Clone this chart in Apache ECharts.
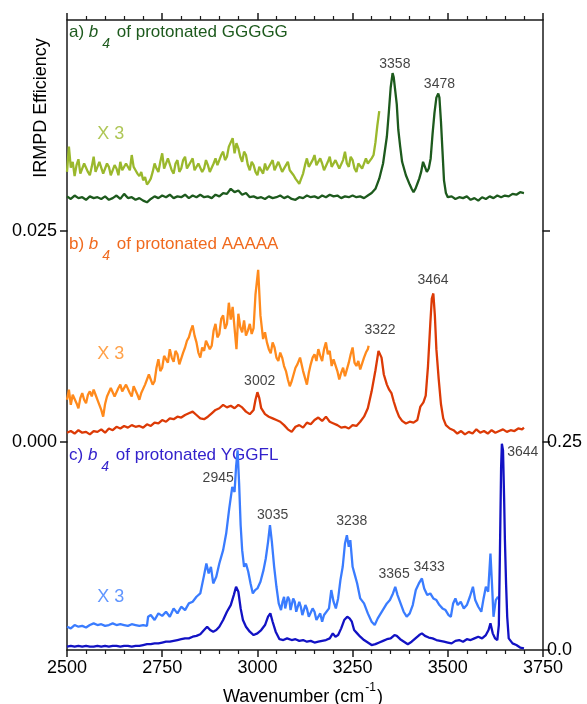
<!DOCTYPE html>
<html>
<head>
<meta charset="utf-8">
<title>IRMPD spectra of b4 ions</title>
<script src="https://cdn.jsdelivr.net/npm/echarts@6.0.0/dist/echarts.min.js"></script>
<style>
  html, body { margin: 0; padding: 0; background: #fff; }
  #chart { width: 587px; height: 704px; }
</style>
</head>
<body>
<div id="chart"></div>
<script>
// wavenumber (cm-1), IRMPD efficiency
const gggggMain = [
  [2500,0.0041],[2510,0.0038],[2520,0.0042],[2530,0.0039],[2540,0.0040],[2550,0.0037],[2560,0.0041],[2570,0.0039],
  [2580,0.0040],[2590,0.0038],[2600,0.0041],[2610,0.0037],[2620,0.0039],[2630,0.0042],[2640,0.0038],[2650,0.0044],
  [2660,0.0039],[2670,0.0040],[2680,0.0037],[2690,0.0039],[2700,0.0036],[2710,0.0034],[2720,0.0038],[2730,0.0041],
  [2740,0.0039],[2750,0.0042],[2760,0.0040],[2770,0.0043],[2780,0.0039],[2790,0.0041],[2800,0.0040],[2810,0.0043],
  [2820,0.0039],[2830,0.0042],[2840,0.0040],[2850,0.0043],[2860,0.0040],[2870,0.0041],[2880,0.0039],[2890,0.0043],
  [2900,0.0041],[2910,0.0045],[2920,0.0044],[2930,0.0050],[2940,0.0046],[2950,0.0048],[2960,0.0043],[2970,0.0045],
  [2980,0.0040],[2990,0.0041],[3000,0.0039],[3010,0.0040],[3020,0.0038],[3030,0.0041],[3040,0.0039],[3050,0.0040],
  [3060,0.0042],[3070,0.0039],[3080,0.0041],[3090,0.0038],[3100,0.0037],[3110,0.0040],[3120,0.0039],[3130,0.0042],
  [3140,0.0040],[3150,0.0041],[3160,0.0039],[3170,0.0042],[3180,0.0040],[3190,0.0043],[3200,0.0041],[3210,0.0042],
  [3220,0.0039],[3230,0.0041],[3240,0.0040],[3250,0.0042],[3260,0.0040],[3270,0.0041],[3280,0.0039],[3290,0.0042],
  [3300,0.0045],[3310,0.0050],[3320,0.0062],[3330,0.0080],[3340,0.0112],[3345,0.0140],[3350,0.0170],[3355,0.0187],
  [3358,0.0182],[3362,0.0180],[3366,0.0150],[3370,0.0120],[3375,0.0100],[3380,0.0082],[3390,0.0066],[3400,0.0055],
  [3405,0.0050],[3410,0.0046],[3415,0.0050],[3420,0.0056],[3425,0.0062],[3430,0.0070],[3435,0.0082],[3440,0.0076],
  [3445,0.0070],[3450,0.0074],[3455,0.0086],[3460,0.0115],[3465,0.0140],[3470,0.0158],[3475,0.0163],[3478,0.0158],
  [3482,0.0130],[3486,0.0095],[3490,0.0060],[3495,0.0045],[3500,0.0040],[3510,0.0041],[3520,0.0038],[3530,0.0040],
  [3540,0.0039],[3550,0.0041],[3560,0.0037],[3570,0.0039],[3580,0.0036],[3590,0.0040],[3600,0.0038],[3610,0.0041],
  [3620,0.0039],[3630,0.0042],[3640,0.0040],[3650,0.0042],[3660,0.0041],[3670,0.0044],[3680,0.0043],[3690,0.0046],
  [3700,0.0045]
];
const gggggX3 = [
  [2500,0.0070],[2505,0.0100],[2510,0.0075],[2515,0.0082],[2520,0.0065],[2525,0.0078],[2530,0.0085],[2535,0.0068],
  [2540,0.0070],[2545,0.0080],[2550,0.0078],[2555,0.0070],[2560,0.0066],[2565,0.0076],[2570,0.0088],[2575,0.0070],
  [2580,0.0072],[2585,0.0082],[2590,0.0080],[2595,0.0068],[2600,0.0070],[2605,0.0080],[2610,0.0076],[2615,0.0066],
  [2620,0.0068],[2625,0.0078],[2630,0.0074],[2635,0.0066],[2640,0.0082],[2645,0.0072],[2650,0.0070],[2655,0.0080],
  [2660,0.0078],[2665,0.0072],[2670,0.0090],[2675,0.0076],[2680,0.0072],[2685,0.0068],[2690,0.0065],[2695,0.0070],
  [2700,0.0060],[2705,0.0064],[2710,0.0055],[2715,0.0058],[2720,0.0062],[2725,0.0070],[2730,0.0080],[2735,0.0074],
  [2740,0.0070],[2745,0.0082],[2750,0.0092],[2755,0.0074],[2760,0.0072],[2765,0.0086],[2770,0.0085],[2775,0.0072],
  [2780,0.0068],[2785,0.0080],[2790,0.0084],[2795,0.0070],[2800,0.0074],[2805,0.0084],[2810,0.0088],[2815,0.0074],
  [2820,0.0072],[2825,0.0082],[2830,0.0086],[2835,0.0072],[2840,0.0070],[2845,0.0080],[2850,0.0082],[2855,0.0070],
  [2860,0.0074],[2865,0.0084],[2870,0.0078],[2875,0.0070],[2880,0.0068],[2885,0.0080],[2890,0.0086],[2895,0.0078],
  [2900,0.0080],[2905,0.0090],[2910,0.0094],[2915,0.0084],[2920,0.0088],[2925,0.0100],[2930,0.0105],[2935,0.0110],
  [2940,0.0092],[2945,0.0104],[2950,0.0098],[2955,0.0088],[2960,0.0082],[2965,0.0094],[2970,0.0090],[2975,0.0078],
  [2980,0.0072],[2985,0.0082],[2990,0.0078],[2995,0.0070],[3000,0.0066],[3005,0.0076],[3010,0.0074],[3015,0.0068],
  [3020,0.0080],[3025,0.0072],[3030,0.0070],[3035,0.0080],[3040,0.0084],[3045,0.0072],[3050,0.0074],[3055,0.0082],
  [3060,0.0076],[3065,0.0070],[3070,0.0068],[3075,0.0078],[3080,0.0082],[3085,0.0072],[3090,0.0070],[3095,0.0066],
  [3100,0.0062],[3105,0.0060],[3110,0.0056],[3115,0.0062],[3120,0.0068],[3125,0.0078],[3130,0.0086],[3135,0.0076],
  [3140,0.0074],[3145,0.0084],[3150,0.0090],[3155,0.0078],[3160,0.0076],[3165,0.0086],[3170,0.0080],[3175,0.0072],
  [3180,0.0070],[3185,0.0082],[3190,0.0088],[3195,0.0076],[3200,0.0074],[3205,0.0084],[3210,0.0086],[3215,0.0074],
  [3220,0.0072],[3225,0.0084],[3230,0.0094],[3235,0.0080],[3240,0.0076],[3245,0.0088],[3250,0.0084],[3255,0.0074],
  [3260,0.0070],[3265,0.0080],[3270,0.0082],[3275,0.0074],[3280,0.0074],[3285,0.0086],[3290,0.0080],[3295,0.0078],
  [3300,0.0086],[3305,0.0090],[3310,0.0105],[3315,0.0125],[3320,0.0142]
];
const aaaaaMain = [
  [2500,0.0011],[2510,0.0013],[2520,0.0010],[2530,0.0014],[2540,0.0011],[2550,0.0012],[2560,0.0009],[2570,0.0013],
  [2580,0.0012],[2590,0.0015],[2600,0.0011],[2610,0.0016],[2620,0.0014],[2630,0.0018],[2640,0.0016],[2650,0.0019],
  [2660,0.0017],[2670,0.0020],[2680,0.0018],[2690,0.0019],[2700,0.0017],[2710,0.0021],[2720,0.0019],[2730,0.0023],
  [2740,0.0022],[2750,0.0026],[2760,0.0024],[2770,0.0028],[2780,0.0027],[2790,0.0030],[2800,0.0029],[2810,0.0032],
  [2820,0.0034],[2830,0.0036],[2840,0.0032],[2850,0.0028],[2860,0.0027],[2870,0.0030],[2880,0.0034],[2890,0.0038],
  [2900,0.0040],[2910,0.0044],[2920,0.0041],[2930,0.0043],[2940,0.0040],[2950,0.0044],[2960,0.0041],[2970,0.0036],
  [2980,0.0033],[2990,0.0038],[2995,0.0050],[3000,0.0059],[3005,0.0052],[3010,0.0040],[3020,0.0033],[3030,0.0030],
  [3040,0.0028],[3050,0.0026],[3060,0.0024],[3070,0.0020],[3080,0.0015],[3090,0.0012],[3100,0.0018],[3110,0.0020],
  [3120,0.0017],[3130,0.0023],[3140,0.0021],[3150,0.0026],[3160,0.0029],[3170,0.0025],[3180,0.0030],[3190,0.0024],
  [3200,0.0022],[3210,0.0020],[3220,0.0017],[3230,0.0018],[3240,0.0016],[3250,0.0020],[3260,0.0019],[3270,0.0024],
  [3280,0.0030],[3290,0.0040],[3300,0.0060],[3310,0.0085],[3318,0.0108],[3322,0.0110],[3326,0.0100],[3332,0.0080],
  [3340,0.0068],[3346,0.0062],[3352,0.0058],[3358,0.0048],[3365,0.0038],[3372,0.0030],[3380,0.0025],[3390,0.0022],
  [3400,0.0024],[3410,0.0023],[3420,0.0026],[3428,0.0042],[3436,0.0047],[3442,0.0055],[3448,0.0090],[3454,0.0140],
  [3458,0.0170],[3462,0.0176],[3466,0.0150],[3470,0.0110],[3476,0.0075],[3482,0.0045],[3488,0.0028],[3495,0.0020],
  [3505,0.0016],[3515,0.0014],[3525,0.0010],[3535,0.0013],[3545,0.0009],[3555,0.0012],[3565,0.0010],[3575,0.0015],
  [3585,0.0011],[3595,0.0013],[3605,0.0010],[3615,0.0014],[3625,0.0011],[3635,0.0013],[3645,0.0015],[3655,0.0012],
  [3665,0.0014],[3675,0.0013],[3685,0.0016],[3695,0.0015],[3700,0.0017]
];
const aaaaaX3 = [
  [2500,0.0050],[2505,0.0062],[2510,0.0044],[2515,0.0056],[2520,0.0055],[2525,0.0046],[2530,0.0040],[2535,0.0052],
  [2540,0.0058],[2545,0.0050],[2550,0.0046],[2555,0.0056],[2560,0.0060],[2565,0.0054],[2570,0.0062],[2575,0.0056],
  [2580,0.0050],[2585,0.0044],[2590,0.0038],[2595,0.0030],[2600,0.0045],[2605,0.0054],[2610,0.0056],[2615,0.0064],
  [2620,0.0062],[2625,0.0054],[2630,0.0052],[2635,0.0064],[2640,0.0068],[2645,0.0060],[2650,0.0058],[2655,0.0068],
  [2660,0.0066],[2665,0.0058],[2670,0.0054],[2675,0.0066],[2680,0.0064],[2685,0.0056],[2690,0.0050],[2695,0.0058],
  [2700,0.0060],[2705,0.0068],[2710,0.0070],[2715,0.0080],[2720,0.0078],[2725,0.0068],[2730,0.0072],[2735,0.0088],
  [2740,0.0098],[2745,0.0084],[2750,0.0088],[2755,0.0102],[2760,0.0100],[2765,0.0094],[2770,0.0110],[2775,0.0100],
  [2780,0.0095],[2785,0.0108],[2790,0.0104],[2795,0.0092],[2800,0.0090],[2805,0.0106],[2810,0.0112],[2815,0.0120],
  [2820,0.0124],[2825,0.0132],[2830,0.0138],[2835,0.0126],[2840,0.0118],[2845,0.0106],[2850,0.0100],[2855,0.0112],
  [2860,0.0108],[2865,0.0120],[2870,0.0122],[2875,0.0110],[2880,0.0114],[2885,0.0132],[2890,0.0140],[2895,0.0124],
  [2900,0.0128],[2905,0.0146],[2910,0.0150],[2915,0.0134],[2920,0.0140],[2925,0.0165],[2930,0.0145],[2935,0.0160],
  [2940,0.0158],[2945,0.0110],[2950,0.0152],[2955,0.0136],[2960,0.0130],[2965,0.0144],[2970,0.0126],[2975,0.0132],
  [2980,0.0140],[2985,0.0128],[2990,0.0135],[2995,0.0175],[3002,0.0204],[3008,0.0150],[3015,0.0122],[3020,0.0130],
  [3025,0.0118],[3030,0.0110],[3035,0.0105],[3040,0.0118],[3045,0.0112],[3050,0.0100],[3055,0.0096],[3060,0.0106],
  [3065,0.0100],[3070,0.0090],[3075,0.0084],[3080,0.0074],[3085,0.0066],[3090,0.0072],[3095,0.0080],[3100,0.0088],
  [3105,0.0092],[3112,0.0100],[3120,0.0084],[3125,0.0076],[3130,0.0068],[3135,0.0082],[3140,0.0092],[3145,0.0100],
  [3150,0.0104],[3155,0.0096],[3160,0.0110],[3165,0.0102],[3170,0.0096],[3175,0.0110],[3180,0.0118],[3185,0.0104],
  [3190,0.0108],[3195,0.0090],[3200,0.0098],[3205,0.0096],[3210,0.0084],[3215,0.0074],[3220,0.0082],[3225,0.0088],
  [3230,0.0078],[3235,0.0080],[3240,0.0094],[3245,0.0104],[3250,0.0112],[3255,0.0094],[3260,0.0090],[3265,0.0096],
  [3270,0.0086],[3275,0.0088],[3280,0.0100],[3285,0.0106],[3290,0.0110],[3292,0.0114]
];
const yggflMain = [
  [2500,0.004],[2510,0.005],[2520,0.004],[2530,0.005],[2540,0.004],[2550,0.005],[2560,0.004],[2570,0.004],
  [2580,0.005],[2590,0.004],[2600,0.005],[2610,0.004],[2620,0.005],[2630,0.005],[2640,0.004],[2650,0.005],
  [2660,0.005],[2670,0.004],[2680,0.005],[2690,0.005],[2700,0.006],[2710,0.007],[2720,0.007],[2730,0.008],
  [2740,0.008],[2750,0.009],[2760,0.010],[2770,0.010],[2780,0.011],[2790,0.012],[2800,0.013],[2810,0.014],
  [2820,0.014],[2830,0.016],[2840,0.017],[2850,0.019],[2860,0.024],[2868,0.028],[2876,0.024],[2884,0.022],
  [2892,0.024],[2900,0.028],[2910,0.036],[2920,0.046],[2930,0.054],[2938,0.066],[2944,0.076],[2950,0.070],
  [2956,0.050],[2962,0.036],[2970,0.028],[2980,0.022],[2990,0.018],[3000,0.020],[3010,0.024],[3020,0.030],
  [3028,0.040],[3034,0.044],[3040,0.034],[3048,0.022],[3058,0.013],[3068,0.012],[3078,0.014],[3090,0.012],
  [3100,0.013],[3110,0.011],[3120,0.012],[3130,0.010],[3140,0.011],[3150,0.009],[3160,0.010],[3170,0.011],
  [3180,0.012],[3190,0.014],[3198,0.020],[3205,0.016],[3212,0.018],[3220,0.026],[3228,0.036],[3236,0.040],
  [3242,0.038],[3248,0.034],[3254,0.024],[3262,0.020],[3270,0.016],[3280,0.012],[3290,0.009],[3300,0.006],
  [3310,0.007],[3320,0.009],[3330,0.011],[3340,0.013],[3350,0.014],[3360,0.018],[3366,0.017],[3375,0.013],
  [3385,0.010],[3395,0.007],[3405,0.010],[3415,0.014],[3425,0.018],[3432,0.020],[3440,0.017],[3450,0.015],
  [3460,0.014],[3470,0.012],[3480,0.011],[3490,0.010],[3500,0.009],[3510,0.008],[3520,0.011],[3530,0.012],
  [3540,0.010],[3550,0.013],[3560,0.012],[3570,0.014],[3580,0.016],[3590,0.014],[3600,0.018],[3607,0.024],
  [3612,0.032],[3618,0.020],[3624,0.014],[3630,0.012],[3634,0.030],[3637,0.120],[3640,0.220],[3642,0.248],
  [3645,0.240],[3648,0.180],[3650,0.132],[3653,0.080],[3656,0.040],[3660,0.014],[3670,0.008],[3680,0.006],
  [3690,0.003],[3700,0.002]
];
const yggflX3 = [
  [2500,0.028],[2510,0.026],[2520,0.030],[2530,0.028],[2540,0.029],[2550,0.027],[2560,0.030],[2570,0.032],
  [2580,0.030],[2590,0.031],[2600,0.029],[2610,0.030],[2620,0.032],[2630,0.030],[2640,0.031],[2650,0.030],
  [2660,0.029],[2670,0.031],[2680,0.030],[2690,0.029],[2700,0.030],[2710,0.029],[2713,0.040],[2720,0.042],
  [2730,0.036],[2740,0.044],[2750,0.041],[2760,0.046],[2770,0.040],[2780,0.050],[2790,0.044],[2800,0.052],
  [2810,0.048],[2820,0.056],[2830,0.058],[2840,0.064],[2850,0.068],[2860,0.090],[2866,0.104],[2872,0.092],
  [2878,0.100],[2884,0.080],[2892,0.088],[2900,0.104],[2910,0.120],[2918,0.140],[2926,0.170],[2934,0.196],
  [2940,0.190],[2944,0.220],[2948,0.240],[2952,0.200],[2956,0.150],[2960,0.120],[2965,0.100],[2970,0.104],
  [2976,0.094],[2982,0.080],[2988,0.068],[2994,0.072],[3000,0.074],[3008,0.082],[3016,0.096],[3022,0.110],
  [3028,0.130],[3033,0.150],[3038,0.130],[3044,0.100],[3050,0.076],[3056,0.056],[3062,0.048],[3066,0.058],
  [3070,0.064],[3073,0.050],[3076,0.052],[3080,0.064],[3084,0.060],[3087,0.048],[3090,0.050],[3094,0.062],
  [3098,0.058],[3102,0.046],[3106,0.046],[3110,0.058],[3114,0.052],[3118,0.042],[3122,0.044],[3126,0.054],
  [3130,0.050],[3135,0.040],[3140,0.040],[3145,0.050],[3150,0.046],[3155,0.036],[3160,0.038],[3165,0.044],
  [3170,0.034],[3175,0.042],[3180,0.040],[3188,0.050],[3194,0.072],[3200,0.058],[3206,0.050],[3212,0.062],
  [3218,0.084],[3224,0.100],[3230,0.128],[3235,0.138],[3240,0.124],[3244,0.132],[3250,0.100],[3256,0.090],
  [3262,0.080],[3270,0.062],[3280,0.056],[3290,0.044],[3300,0.034],[3308,0.030],[3316,0.038],[3324,0.044],
  [3332,0.050],[3340,0.056],[3348,0.060],[3356,0.068],[3362,0.076],[3368,0.066],[3376,0.056],[3384,0.046],
  [3392,0.040],[3400,0.044],[3408,0.054],[3416,0.072],[3424,0.080],[3432,0.086],[3438,0.074],[3446,0.066],
  [3454,0.068],[3462,0.062],[3470,0.060],[3478,0.054],[3486,0.050],[3494,0.048],[3502,0.042],[3508,0.040],
  [3514,0.056],[3520,0.062],[3526,0.054],[3534,0.058],[3542,0.050],[3550,0.054],[3558,0.064],[3566,0.076],
  [3572,0.060],[3580,0.052],[3588,0.046],[3594,0.062],[3600,0.076],[3606,0.070],[3612,0.116],[3616,0.080],
  [3620,0.040],[3626,0.060],[3632,0.064]
];

// peak labels: [text, label x (cm-1), label y (efficiency)]
const peaksA = [['3358', 3361, 0.0198], ['3478', 3478, 0.0174]];
const peaksB = [['3002', 3006, 0.0072], ['3322', 3322, 0.0133], ['3464', 3461, 0.0192]];
const peaksC = [['2945', 2897, 0.206], ['3035', 3040, 0.162], ['3238', 3248, 0.155],
                ['3365', 3359, 0.091], ['3433', 3451, 0.100], ['3644', 3697, 0.238]];
// "X 3" tags: [x (cm-1), y]
const tagA = [2615, 0.0115];
const tagB = [2615, 0.0104];
const tagC = [2615, 0.064];

const xTicks = { min: 2500, max: 3750, interval: 250 };
const leftTicks = [0, 0.025];
const rightTicks = [0, 0.25];

const FONT = 'Liberation Sans, Arial, sans-serif';
const AXIS = '#1a1a1a';

const colA = '#1d5a1d', colA3 = '#9ab82c';
const colB = '#dc3a06', colB3 = '#ff8a1c', colBt = '#f06a1e';
const colC = '#1212c4', colC3 = '#3a7cff', colCt = '#3322cc';

const chart = echarts.init(document.getElementById('chart'));

function xAxis(grid, opts) {
  return Object.assign({
    gridIndex: grid, type: 'value', min: xTicks.min, max: xTicks.max, interval: xTicks.interval,
    axisLine: { show: true, onZero: false, lineStyle: { color: AXIS, width: 1.5 } },
    axisTick: { show: true, length: 7, lineStyle: { color: AXIS, width: 1.5 } },
    minorTick: { show: true, splitNumber: 5, length: 4, lineStyle: { color: AXIS, width: 1.2 } },
    axisLabel: { show: false },
    splitLine: { show: false }
  }, opts);
}

function yAxis(grid, pos, max, opts) {
  return Object.assign({
    gridIndex: grid, type: 'value', position: pos, min: 0, max: max, interval: max,
    axisLine: { show: true, onZero: false, lineStyle: { color: AXIS, width: 1.5 } },
    axisTick: { show: false },
    axisLabel: { show: false },
    splitLine: { show: false }
  }, opts);
}

function line(data, color, xi, yi) {
  return {
    type: 'line', data: data, xAxisIndex: xi, yAxisIndex: yi,
    showSymbol: false, symbol: 'none', silent: true,
    lineStyle: { color: color, width: 2.3 }
  };
}

function labels(peaks, tag, tagColor, xi, yi) {
  const data = peaks.map(p => ({ name: p[0], value: [p[1], p[2]] }));
  data.push({ name: 'X 3', value: tag, label: { color: tagColor, fontSize: 18 } });
  return {
    type: 'scatter', xAxisIndex: xi, yAxisIndex: yi, symbolSize: 0, silent: true, z: 5,
    data: data,
    label: { show: true, position: 'inside', formatter: '{b}', color: '#111', fontSize: 14, fontFamily: FONT }
  };
}

function title(letter, name, color, top) {
  const base = { fill: color, fontSize: 17, fontFamily: FONT, lineHeight: 20, verticalAlign: 'top' };
  return {
    type: 'text', left: 69, top: top, silent: true,
    style: {
      text: '{n|' + letter + ') }{i|b}{s|4}{n| of protonated ' + name + '}',
      rich: {
        n: base,
        i: Object.assign({}, base, { fontStyle: 'italic' }),
        s: { fill: color, fontSize: 14, fontFamily: FONT, fontStyle: 'italic', verticalAlign: 'top', padding: [13, 2, 0, 4] }
      }
    }
  };
}

chart.setOption({
  animation: false,
  backgroundColor: '#fff',
  textStyle: { fontFamily: FONT },
  grid: [
    { left: 67, right: 44, top: 20, height: 211 },
    { left: 67, right: 44, top: 231, height: 211 },
    { left: 67, right: 44, top: 442, height: 208 }
  ],
  xAxis: [
    xAxis(0, { position: 'top' }),
    xAxis(1, { show: false }),
    xAxis(2, {
      position: 'bottom',
      axisLabel: { show: true, color: '#000', fontSize: 18, margin: 9, fontFamily: FONT,
        showMinLabel: true, showMaxLabel: true, formatter: v => String(v) }
    })
  ],
  yAxis: [
    yAxis(0, 'left', leftTicks[1]),
    yAxis(0, 'right', leftTicks[1]),
    yAxis(1, 'left', leftTicks[1], {
      axisTick: { show: true, length: 7, lineStyle: { color: AXIS, width: 1.5 } },
      axisLabel: { show: true, color: '#000', fontSize: 18, margin: 10, fontFamily: FONT,
        showMinLabel: true, showMaxLabel: true, formatter: v => v.toFixed(3) }
    }),
    yAxis(1, 'right', leftTicks[1], {
      axisTick: { show: true, length: 7, lineStyle: { color: AXIS, width: 1.5 } }
    }),
    yAxis(2, 'left', rightTicks[1]),
    yAxis(2, 'right', rightTicks[1], {
      axisTick: { show: true, length: 7, lineStyle: { color: AXIS, width: 1.5 } },
      axisLabel: { show: true, color: '#000', fontSize: 18, margin: 4, fontFamily: FONT,
        showMinLabel: true, showMaxLabel: true, formatter: v => (v === 0 ? '0.0' : v.toFixed(2)) }
    })
  ],
  series: [
    line(gggggX3, colA3, 0, 0),
    line(gggggMain, colA, 0, 0),
    line(aaaaaX3, colB3, 1, 2),
    line(aaaaaMain, colB, 1, 2),
    line(yggflX3, colC3, 2, 4),
    line(yggflMain, colC, 2, 4),
    labels(peaksA, tagA, colA3, 0, 0),
    labels(peaksB, tagB, colB3, 1, 2),
    labels(peaksC, tagC, colC3, 2, 4)
  ],
  graphic: [
    title('a', 'GGGGG', colA, 24),
    title('b', 'AAAAA', colBt, 236),
    title('c', 'YGGFL', colCt, 447),
    {
      type: 'text', x: 41, y: 108, rotation: Math.PI / 2, silent: true,
      style: { text: 'IRMPD Efficiency', fill: '#000', fontSize: 18, fontFamily: FONT, align: 'center', verticalAlign: 'middle' }
    },
    {
      type: 'text', x: 303, y: 682, silent: true,
      style: {
        text: '{n|Wavenumber (cm}{s|-1}{n|)}',
        align: 'center',
        rich: {
          n: { fill: '#000', fontSize: 18, fontFamily: FONT, verticalAlign: 'bottom', padding: [6, 0, 0, 0] },
          s: { fill: '#000', fontSize: 12, fontFamily: FONT, verticalAlign: 'top', padding: [0, 1, 0, 1] }
        }
      }
    }
  ]
});
</script>
</body>
</html>
